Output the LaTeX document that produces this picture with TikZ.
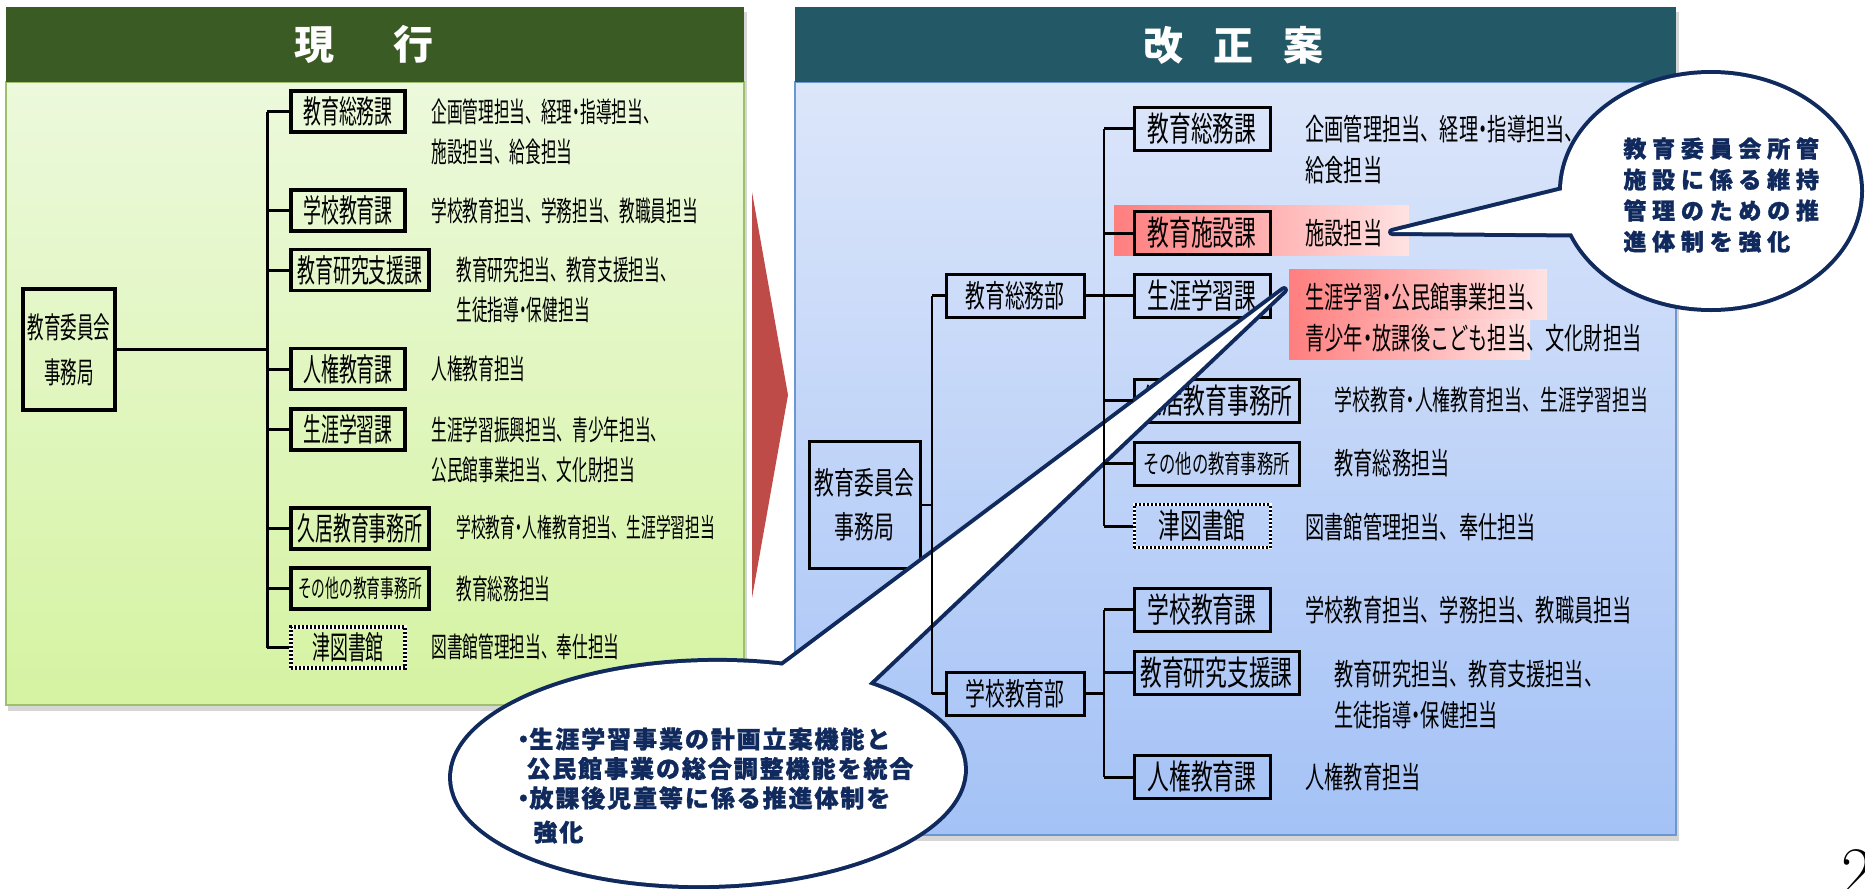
\documentclass[tikz,border=0pt]{standalone}
\usepackage{fontspec}
\newfontfamily\jpL[FakeStretch=0.56]{Noto Sans CJK JP}
\newfontfamily\jpR[FakeStretch=0.64]{Noto Sans CJK JP}
\newfontfamily\jpT{Noto Sans CJK JP}
\newfontfamily\jpCa[LetterSpace=25, BoldFeatures={FakeBold=1.2}]{Noto Sans CJK JP}
\newfontfamily\jpCb[LetterSpace=8, BoldFeatures={FakeBold=1.2}]{Noto Sans CJK JP}
\newcommand\hdot{\setbox0\hbox{・}\makebox[0.5\wd0][c]{・}}
\definecolor{lgTitle}{HTML}{3B5B25}
\definecolor{lgTop}{HTML}{ECF9DC}
\definecolor{lgBot}{HTML}{D5F3A2}
\definecolor{lgBorder}{HTML}{9DC16B}
\definecolor{rbTitle}{HTML}{235866}
\definecolor{rbTop}{HTML}{DCE6FA}
\definecolor{rbBot}{HTML}{A4C2F6}
\definecolor{rbBorder}{HTML}{6A97D0}
\definecolor{arrRed}{HTML}{BE4B48}
\definecolor{pinkL}{HTML}{FF7E7E}
\definecolor{pinkR}{HTML}{FFE2E2}
\definecolor{navy}{HTML}{102A5E}
\tikzset{
  ttl/.style={text=white, inner sep=0pt, font=\jpT\bfseries\fontsize{20}{20}\selectfont},
  lbox/.style={draw, line width=1.6pt, inner sep=0pt, minimum height=20.5pt, minimum width=57pt, font=\jpL\fontsize{16}{22.5}\selectfont, align=center},
  rbox/.style={draw, line width=1.5pt, inner sep=0pt, minimum height=21.5pt, minimum width=68pt, font=\jpR\fontsize{17}{22}\selectfont, align=center},
  dotbox/.style={dash pattern=on 1pt off 1pt, preaction={draw=white, solid}},
  ldesc/.style={anchor=west, inner sep=0pt, align=left, font=\jpL\fontsize{14}{20}\selectfont},
  rdesc/.style={anchor=west, inner sep=0pt, align=left, font=\jpR\fontsize{15}{20.5}\selectfont},
  lconn/.style={line width=1.5pt},
  rtrunk/.style={line width=1pt},
  rconn/.style={line width=1.5pt},
  balloonline/.style={navy, line width=4pt, line join=round},
  c1txt/.style={anchor=west, inner sep=0pt, align=left, text=navy, font=\jpCa\bfseries\fontsize{11.5}{15.5}\selectfont},
  c2txt/.style={anchor=west, inner sep=0pt, align=left, text=navy, font=\jpCb\bfseries\fontsize{12}{14.75}\selectfont}
}
\begin{document}
\begin{tikzpicture}[x=0.5pt,y=-0.5pt]
\useasboundingbox (0,0) rectangle (1865,889);
\clip (0,0) rectangle (1865,889);
\fill[white] (0,0) rectangle (1865,889);

% shadows
\fill[black!16] (8,12) rectangle (747,711);
\fill[black!16] (797,12) rectangle (1679,841);

% left panel
\shade[top color=lgTop, bottom color=lgBot] (6,82) rectangle (744,705);
\draw[lgBorder, line width=1pt] (6,82) rectangle (744,705);
\fill[lgTitle] (6,7) rectangle (744,82);
\node[ttl] (Lttl) at (363.5,44.5) {現\hspace{29.5pt}行};

% arrow
\fill[arrRed] (752,192) -- (788,395) -- (752,598) -- cycle;

% right panel
\shade[top color=rbTop, bottom color=rbBot] (795,82) rectangle (1676,835);
\draw[rbBorder, line width=1pt] (795,82) rectangle (1676,835);
\fill[rbTitle] (795,7) rectangle (1676,82);
\node[ttl] (Rttl) at (1233,45) {改\hspace{15pt}正\hspace{15pt}案};

% highlights
\shade[left color=pinkL, right color=pinkR] (1114,205) rectangle (1409,255);
\shade[left color=pinkL, right color=pinkR] (1289,269) rectangle (1547,319);
\shade[left color=pinkL, right color=pinkR] (1289,319) rectangle (1530,359);

% left boxes
\node[lbox, minimum width=46pt, minimum height=60.5pt, font=\jpL\fontsize{14.75}{22.5}\selectfont] (Ljimu) at (69,349.5) {教育委員会\\事務局};
\node[lbox] (L1) at (348,111.5) {教育総務課};
\node[lbox] (L2) at (348,210.5) {学校教育課};
\node[lbox, minimum width=69pt] (L3) at (360,270) {教育研究支援課};
\node[lbox] (L4) at (348,369) {人権教育課};
\node[lbox] (L5) at (348,429.5) {生涯学習課};
\node[lbox, minimum width=69pt] (L6) at (360,528.5) {久居教育事務所};
\node[lbox, minimum width=69pt, font=\jpL\fontsize{12.25}{14}\selectfont] (L7) at (360,588.5) {その他の教育事務所};
\node[lbox, dotbox] (L8) at (348,647.5) {津図書館};

% left descriptions
\node[ldesc] (LD1) at (431,132) {企画管理担当、経理\hdot 指導担当、\\施設担当、給食担当};
\node[ldesc] (LD2) at (431,211) {学校教育担当、学務担当、教職員担当};
\node[ldesc] (LD3) at (456,290) {教育研究担当、教育支援担当、\\生徒指導\hdot 保健担当};
\node[ldesc] (LD4) at (431,369) {人権教育担当};
\node[ldesc] (LD5) at (431,449.5) {生涯学習振興担当、青少年担当、\\公民館事業担当、文化財担当};
\node[ldesc, font=\jpL\fontsize{13.2}{20}\selectfont] (LD6) at (456,527) {学校教育\hdot 人権教育担当、生涯学習担当};
\node[ldesc] (LD7) at (456,589) {教育総務担当};
\node[ldesc] (LD8) at (431,647) {図書館管理担当、奉仕担当};

% left connectors
\coordinate (LT) at (267,0);
\draw[lconn] (Ljimu.east) -- (Ljimu.east -| LT);
\draw[lconn] (L1.west -| LT) -- (L8.west -| LT);
\foreach \n in {L1,L2,L3,L4,L5,L6,L7,L8} \draw[lconn] (\n.west -| LT) -- (\n.west);

% right boxes
\node[rbox, minimum width=55.5pt, minimum height=63.5pt, font=\jpR\fontsize{15.5}{22}\selectfont] (Rjimu) at (864.5,504.5) {教育委員会\\事務局};
\node[rbox, minimum width=69pt, font=\jpR\fontsize{15.5}{18}\selectfont] (Rbu1) at (1015,295.5) {教育総務部};
\node[rbox, minimum width=69pt, font=\jpR\fontsize{15.5}{18}\selectfont] (Rbu2) at (1015,693.5) {学校教育部};
\node[rbox] (R1) at (1202,128.5) {教育総務課};
\node[rbox] (R2) at (1202,233) {教育施設課};
\node[rbox] (R3) at (1202,295.5) {生涯学習課};
\node[rbox, minimum width=82.5pt] (R4) at (1216.5,400.5) {久居教育事務所};
\node[rbox, minimum width=82.5pt, font=\jpR\fontsize{12.75}{14}\selectfont] (R5) at (1216.5,463.5) {その他の教育事務所};
\node[rbox, dotbox] (R6) at (1202,526) {津図書館};
\node[rbox] (R7) at (1202,609.5) {学校教育課};
\node[rbox, minimum width=82.5pt] (R8) at (1216.5,672.5) {教育研究支援課};
\node[rbox] (R9) at (1202,777) {人権教育課};

% right descriptions
\node[rdesc] (RD1) at (1305,150) {企画管理担当、経理\hdot 指導担当、\\給食担当};
\node[rdesc] (RD2) at (1305,233) {施設担当};
\node[rdesc] (RD3) at (1305,317.5) {生涯学習\hdot 公民館事業担当、\\青少年\hdot 放課後こども担当、文化財担当};
\node[rdesc, font=\jpR\fontsize{14}{20.5}\selectfont] (RD4) at (1334,400) {学校教育\hdot 人権教育担当、生涯学習担当};
\node[rdesc] (RD5) at (1334,463) {教育総務担当};
\node[rdesc] (RD6) at (1305,527) {図書館管理担当、奉仕担当};
\node[rdesc] (RD7) at (1305,610) {学校教育担当、学務担当、教職員担当};
\node[rdesc] (RD8) at (1334,695) {教育研究担当、教育支援担当、\\生徒指導\hdot 保健担当};
\node[rdesc] (RD9) at (1305,777) {人権教育担当};

% callout 1
\draw[balloonline] (1392,232) -- (1640,171) -- (1640,234) -- cycle;
\draw[balloonline] (1711,191) ellipse [x radius=74.5pt, y radius=58.5pt];
\fill[white] (1392,232) -- (1640,171) -- (1640,234) -- cycle;
\fill[white] (1711,191) ellipse [x radius=74.5pt, y radius=58.5pt];
\node[c1txt] (C1) at (1623,195) {教育委員会所管\\施設に係る維持\\管理のための推\\進体制を強化};

% callout 2
\draw[balloonline] (1284,290) -- (734,702) -- (807,742) -- cycle;
\draw[balloonline, rotate around={1.1:(708,773.5)}] (708,773.5) ellipse [x radius=128pt, y radius=55.75pt];
\fill[white] (1284,290) -- (734,702) -- (807,742) -- cycle;
\fill[white, rotate around={1.1:(708,773.5)}] (708,773.5) ellipse [x radius=128pt, y radius=55.75pt];
\node[c2txt] (C2) at (517,785.5) {\hdot 生涯学習事業の計画立案機能と\\\hspace*{4.5pt}公民館事業の総合調整機能を統合\\\hdot 放課後児童等に係る推進体制を\\[2.25pt]\hspace*{8pt}強化};

% right connectors
\coordinate (RA) at (932,0);
\coordinate (RB) at (1104,0);
\draw[rtrunk] (Rjimu.east) -- (Rjimu.east -| RA);
\draw[rtrunk] (Rbu1.west -| RA) -- (Rbu2.west -| RA);
\draw[rconn] (Rbu1.west -| RA) -- (Rbu1.west);
\draw[rconn] (Rbu2.west -| RA) -- (Rbu2.west);
\draw[rconn] (Rbu1.east) -- (Rbu1.east -| RB);
\draw[rconn] (Rbu2.east) -- (Rbu2.east -| RB);
\draw[rtrunk] (R1.west -| RB) -- (R6.west -| RB);
\draw[rtrunk] (R7.west -| RB) -- (R9.west -| RB);
\foreach \n in {R1,R2,R3,R4,R5,R6,R7,R8,R9} \draw[rconn] (\n.west -| RB) -- (\n.west);

% page number
\node[anchor=north west, inner sep=0pt, font=\fontsize{34}{34}\selectfont] (pg) at (1841,849) {2};
\end{tikzpicture}
\end{document}
